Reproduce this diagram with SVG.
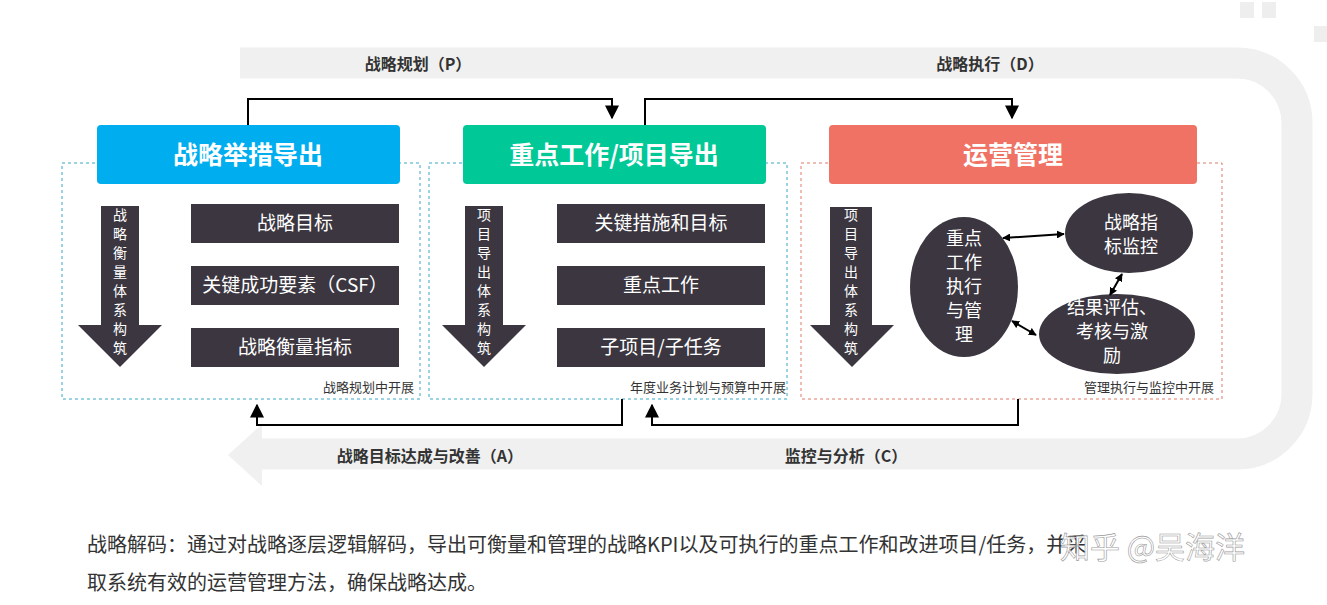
<svg xmlns="http://www.w3.org/2000/svg" width="1327" height="605" viewBox="0 0 1327 605">
<defs>
<marker id="ah" viewBox="0 0 10 10" refX="9" refY="5" markerWidth="7" markerHeight="7" orient="auto-start-reverse"><path d="M0,0L10,5L0,10z" fill="#000"/></marker>
<marker id="as" viewBox="0 0 10 10" refX="9" refY="5" markerWidth="4" markerHeight="4" orient="auto-start-reverse"><path d="M0,0L10,5L0,10z" fill="#000"/></marker>
<style>
text{font-family:"Noto Sans CJK SC","Liberation Sans",sans-serif}
.hdr{fill:#fff;font-size:25px;font-weight:bold;text-anchor:middle}
.bar{fill:#3b3640}
.bt{fill:#fff;font-size:19px;text-anchor:middle}
.vt{fill:#fff;font-size:14px;text-anchor:middle}
.dash{fill:none;stroke-width:1;stroke-dasharray:3,3}
.lbl{fill:#333;font-size:16px;font-weight:bold;text-anchor:middle}
.sm{fill:#333;font-size:13px;text-anchor:end}
.ell{fill:#3b3640}
.et{fill:#fff;font-size:18px;text-anchor:middle}
.cn{fill:none;stroke:#000;stroke-width:2}
</style>
</defs>
<rect width="1327" height="605" fill="#fff"/>
<g id="loop">
<path d="M240,63 H1237 A60,60 0 0 1 1297,123 V394 A60,60 0 0 1 1237,454 H262" fill="none" stroke="#f0f0f0" stroke-width="31"/>
<polygon points="228,455 262,424 262,486" fill="#f0f0f0"/>
<rect x="1240" y="2" width="14" height="16" fill="#eee"/><rect x="1262" y="2" width="14" height="16" fill="#eee"/>
<rect x="1314" y="26" width="13" height="16" fill="#eee"/>
<text class="lbl" x="418" y="70">战略规划（P）</text>
<text class="lbl" x="990" y="70">战略执行（D）</text>
<text class="lbl" x="430" y="462">战略目标达成与改善（A）</text>
<text class="lbl" x="846" y="462">监控与分析（C）</text>
</g>
<g id="panel1">
<rect class="dash" x="62" y="163" width="358" height="236" stroke="#3aa8c8"/>
<rect x="97" y="125" width="303" height="59" rx="4" fill="#00aeef"/>
<text class="hdr" x="248" y="164">战略举措导出</text>
<polygon class="bar" points="101,206 139,206 139,325 162,325 120,367 78,325 101,325"/>
<text class="vt"><tspan x="120" y="220">战</tspan><tspan x="120" y="239">略</tspan><tspan x="120" y="258">衡</tspan><tspan x="120" y="277">量</tspan><tspan x="120" y="296">体</tspan><tspan x="120" y="315">系</tspan><tspan x="120" y="334">构</tspan><tspan x="120" y="353">筑</tspan></text>
<rect class="bar" x="191" y="204" width="208" height="39"/><text class="bt" x="295" y="230">战略目标</text>
<rect class="bar" x="191" y="266" width="208" height="39"/><text class="bt" x="295" y="292">关键成功要素（CSF）</text>
<rect class="bar" x="191" y="328" width="208" height="39"/><text class="bt" x="295" y="354">战略衡量指标</text>
<text class="sm" x="414" y="392">战略规划中开展</text>
</g>
<g id="panel2">
<rect class="dash" x="429" y="163" width="358" height="236" stroke="#3aa8c8"/>
<rect x="463" y="125" width="303" height="59" rx="4" fill="#00c896"/>
<text class="hdr" x="614" y="164">重点工作/项目导出</text>
<polygon class="bar" points="465,206 503,206 503,325 526,325 484,367 442,325 465,325"/>
<text class="vt"><tspan x="484" y="220">项</tspan><tspan x="484" y="239">目</tspan><tspan x="484" y="258">导</tspan><tspan x="484" y="277">出</tspan><tspan x="484" y="296">体</tspan><tspan x="484" y="315">系</tspan><tspan x="484" y="334">构</tspan><tspan x="484" y="353">筑</tspan></text>
<rect class="bar" x="557" y="204" width="208" height="39"/><text class="bt" x="661" y="230">关键措施和目标</text>
<rect class="bar" x="557" y="266" width="208" height="39"/><text class="bt" x="661" y="292">重点工作</text>
<rect class="bar" x="557" y="328" width="208" height="39"/><text class="bt" x="661" y="354">子项目/子任务</text>
<text class="sm" x="786" y="392">年度业务计划与预算中开展</text>
</g>
<g id="panel3">
<rect class="dash" x="801" y="163" width="421" height="236" stroke="#e07a6a"/>
<rect x="829" y="125" width="368" height="59" rx="4" fill="#f07264"/>
<text class="hdr" x="1013" y="164">运营管理</text>
<polygon class="bar" points="830,207 872,207 872,325 894,325 852,367 810,325 830,325"/>
<text class="vt"><tspan x="851" y="220">项</tspan><tspan x="851" y="239">目</tspan><tspan x="851" y="258">导</tspan><tspan x="851" y="277">出</tspan><tspan x="851" y="296">体</tspan><tspan x="851" y="315">系</tspan><tspan x="851" y="334">构</tspan><tspan x="851" y="353">筑</tspan></text>
<ellipse class="ell" cx="964" cy="287" rx="54" ry="70"/>
<text class="et"><tspan x="964" y="245">重点</tspan><tspan x="964" y="269">工作</tspan><tspan x="964" y="293">执行</tspan><tspan x="964" y="317">与管</tspan><tspan x="964" y="341">理</tspan></text>
<ellipse class="ell" cx="1129" cy="233" rx="64" ry="40"/>
<text class="et"><tspan x="1131" y="229">战略指</tspan><tspan x="1131" y="253">标监控</tspan></text>
<ellipse class="ell" cx="1117" cy="334" rx="78" ry="40"/>
<text class="et"><tspan x="1112" y="314">结果评估、</tspan><tspan x="1112" y="338">考核与激</tspan><tspan x="1112" y="362">励</tspan></text>
<text class="sm" x="1214" y="392">管理执行与监控中开展</text>
</g>
<g id="connectors">
<path class="cn" d="M248,125 V99 H612 V118" marker-end="url(#ah)"/>
<path class="cn" d="M645,125 V99 H1012 V118" marker-end="url(#ah)"/>
<path class="cn" d="M622,399 V425 H257 V405" marker-end="url(#ah)"/>
<path class="cn" d="M1018,399 V425 H652 V405" marker-end="url(#ah)"/>
<line x1="1003" y1="238" x2="1064" y2="234" stroke="#000" stroke-width="2" marker-start="url(#as)" marker-end="url(#as)"/>
<line x1="1122" y1="274" x2="1110" y2="295" stroke="#000" stroke-width="2" marker-start="url(#as)" marker-end="url(#as)"/>
<line x1="1012" y1="321" x2="1036" y2="335" stroke="#000" stroke-width="2" marker-start="url(#as)" marker-end="url(#as)"/>
</g>
<g id="caption">
<text x="87" y="552" font-size="20" fill="#333">战略解码：通过对战略逐层逻辑解码，导出可衡量和管理的战略KPI以及可执行的重点工作和改进项目/任务，并采</text>
<text x="87" y="590" font-size="20" fill="#333">取系统有效的运营管理方法，确保战略达成。</text>
<text x="1060" y="558" font-size="30" fill="#fff" fill-opacity="0.8" stroke="#999" stroke-width="0.6">知乎 @吴海洋</text>
</g>
</svg>
